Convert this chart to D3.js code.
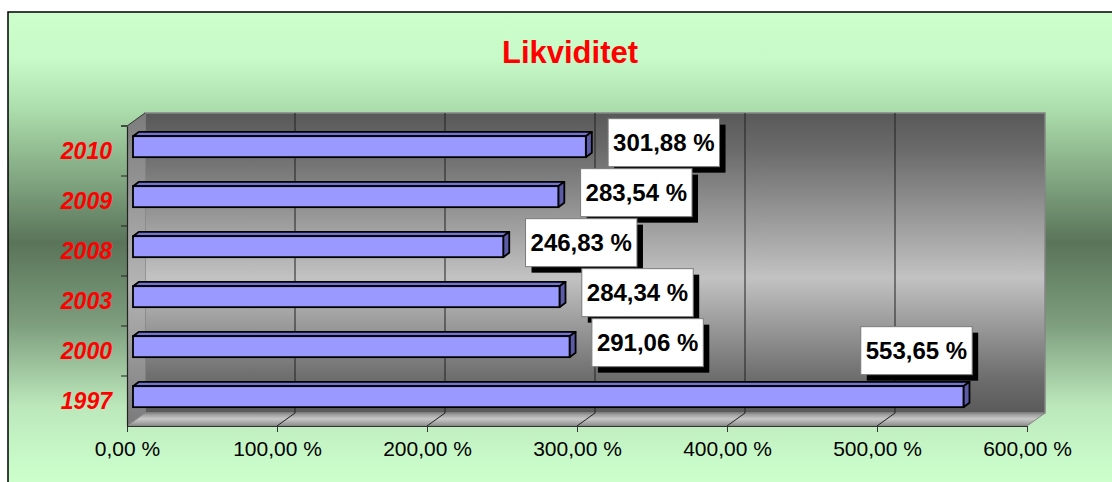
<!DOCTYPE html>
<html>
<head>
<meta charset="utf-8">
<script src="https://cdn.jsdelivr.net/npm/d3@7"></script>
<style>
  body { margin: 0; background: #fff; }
  svg { display: block; font-family: Arial, "Liberation Sans", sans-serif; }
</style>
</head>
<body>
<div id="chart"></div>
<script>
// chart values
var years = ["1997", "2000", "2003", "2008", "2009", "2010"];
var values = [553.65, 291.06, 284.34, 246.83, 283.54, 301.88];
var xTicks = [0, 100, 200, 300, 400, 500, 600];
var title = "Likviditet";

var W = 1112, H = 482;
var depth = { dx: 18, dy: -13 };   // 3d offset of back wall
var plot = { left: 127, right: 1027, top: 126, bottom: 426 };

var svg = d3.select("#chart").append("svg")
    .attr("width", W)
    .attr("height", H);

var defs = svg.append("defs");

function vGrad(id, y1, y2, stops) {
    var g = defs.append("linearGradient")
        .attr("id", id)
        .attr("gradientUnits", "userSpaceOnUse")
        .attr("x1", 0).attr("x2", 0)
        .attr("y1", y1).attr("y2", y2);
    stops.forEach(function(s) {
        g.append("stop").attr("offset", s[0]).attr("stop-color", s[1]);
    });
}

vGrad("bgGrad", 12, 482, [[0, "#ccffcc"], [0.1, "#c8f9c8"], [0.21, "#abdcab"], [0.49, "#5a745a"], [0.66, "#7c9c7c"], [0.84, "#bce8bc"], [0.95, "#c8f9c8"], [1, "#ccffcc"]]);
vGrad("wallGrad", 113, 413, [[0, "#595959"], [0.12, "#6a6a6a"], [0.55, "#c2c2c2"], [0.88, "#6e6e6e"], [1, "#5a5a5a"]]);
vGrad("sideGrad", 113, 426, [[0, "#7c7c7c"], [0.55, "#b4b4b4"], [1, "#7a7a7a"]]);
vGrad("floorGrad", 413, 426, [[0, "#8e8e8e"], [0.45, "#c8c8c8"], [0.75, "#a8a8a8"], [1, "#8a8a8a"]]);

// outer background
svg.append("rect")
    .attr("x", 8).attr("y", 12)
    .attr("width", W + 10).attr("height", H + 10)
    .attr("fill", "url(#bgGrad)")
    .attr("stroke", "#000")
    .attr("stroke-width", 1.5);

svg.append("text")
    .attr("x", 570).attr("y", 63)
    .attr("text-anchor", "middle")
    .attr("font-size", 31)
    .attr("font-weight", "bold")
    .attr("fill", "#ff0000")
    .text(title);

var x = d3.scaleLinear()
    .domain([0, 600])
    .range([plot.left, plot.right]);

var y = d3.scaleBand()
    .domain(years)
    .range([plot.bottom, plot.top]);

var pts = function(arr) { return arr.map(function(p) { return p.join(","); }).join(" "); };

var x0 = plot.left, x1 = plot.right;
var bx0 = x0 + depth.dx, bx1 = x1 + depth.dx;
var by0 = plot.top + depth.dy, by1 = plot.bottom + depth.dy;

// walls
svg.append("polygon")
    .attr("points", pts([[bx0, by0], [bx1, by0], [bx1, by1], [bx0, by1]]))
    .attr("fill", "url(#wallGrad)")
    .attr("stroke", "#858585")
    .attr("stroke-width", 1.5);

svg.append("polygon")
    .attr("points", pts([[x0, plot.top], [bx0, by0], [bx0, by1], [x0, plot.bottom]]))
    .attr("fill", "url(#sideGrad)");

svg.append("polygon")
    .attr("points", pts([[x0, plot.bottom], [bx0, by1], [bx1, by1], [x1, plot.bottom]]))
    .attr("fill", "url(#floorGrad)")
    .attr("stroke", "#858585")
    .attr("stroke-width", 1);

svg.append("line")
    .attr("x1", x0).attr("y1", plot.top)
    .attr("x2", bx0).attr("y2", by0)
    .attr("stroke", "#333");

// grid lines on back wall and floor
var grid = svg.append("g");
grid.selectAll(".wall-grid")
    .data(xTicks.slice(1, -1))
    .enter().append("line")
    .attr("x1", function(d) { return x(d) + depth.dx; })
    .attr("x2", function(d) { return x(d) + depth.dx; })
    .attr("y1", by0).attr("y2", by1)
    .attr("stroke", "#222")
    .attr("stroke-width", 1);
grid.selectAll(".floor-grid")
    .data(xTicks.slice(1, -1))
    .enter().append("line")
    .attr("x1", function(d) { return x(d); })
    .attr("y1", plot.bottom)
    .attr("x2", function(d) { return x(d) + depth.dx; })
    .attr("y2", by1)
    .attr("stroke", "#222")
    .attr("stroke-width", 1);

// bars (3d boxes)
var f1 = 1 / 3, f2 = 2 / 3;
var barH = 21;
var rows = years.map(function(yr, i) { return { year: yr, value: values[i] }; });

var bars = svg.append("g").selectAll("g")
    .data(rows)
    .enter().append("g");

function barGeom(d) {
    var cy = y(d.year) + y.bandwidth() / 2 + depth.dy * f1;
    return {
        xl: x(0) + depth.dx * f1,
        xr: x(d.value) + depth.dx * f1,
        yt: cy - barH / 2,
        yb: cy + barH / 2,
        ox: depth.dx * (f2 - f1),
        oy: depth.dy * (f2 - f1),
        cy: cy
    };
}

bars.append("polygon")
    .attr("points", function(d) {
        var g = barGeom(d);
        return pts([[g.xl, g.yt], [g.xl + g.ox, g.yt + g.oy], [g.xr + g.ox, g.yt + g.oy], [g.xr, g.yt]]);
    })
    .attr("fill", "#7373d0")
    .attr("stroke", "#000").attr("stroke-width", 1.8).attr("stroke-linejoin", "round");

bars.append("polygon")
    .attr("points", function(d) {
        var g = barGeom(d);
        return pts([[g.xr, g.yt], [g.xr + g.ox, g.yt + g.oy], [g.xr + g.ox, g.yb + g.oy], [g.xr, g.yb]]);
    })
    .attr("fill", "#5a5aa6")
    .attr("stroke", "#000").attr("stroke-width", 1.8).attr("stroke-linejoin", "round");

bars.append("rect")
    .attr("x", function(d) { return barGeom(d).xl; })
    .attr("y", function(d) { return barGeom(d).yt; })
    .attr("width", function(d) { var g = barGeom(d); return g.xr - g.xl; })
    .attr("height", barH)
    .attr("fill", "#9999ff")
    .attr("stroke", "#000").attr("stroke-width", 1.8);

// x axis
var fmt = function(d) { return d3.format(".2f")(d).replace(".", ",") + " %"; };

var xAxis = svg.append("g")
    .attr("transform", "translate(0," + plot.bottom + ")")
    .call(d3.axisBottom(x).tickValues(xTicks).tickFormat(fmt).tickSize(6).tickPadding(9).tickSizeOuter(0));
xAxis.select(".domain").attr("stroke", "#333").attr("stroke-width", 1.2);
xAxis.selectAll(".tick line").attr("stroke", "#333");
xAxis.selectAll(".tick text")
    .attr("font-size", 21)
    .attr("font-family", "Arial, 'Liberation Sans', sans-serif")
    .attr("fill", "#000");

// y axis
var yAxis = svg.append("g")
    .attr("transform", "translate(" + plot.left + ",0)")
    .call(d3.axisLeft(y).tickSize(0).tickPadding(15));
yAxis.select(".domain").attr("stroke", "#222").attr("stroke-width", 1.2);
yAxis.selectAll(".tick text")
    .attr("dy", "0.36em")
    .attr("font-size", 23)
    .attr("font-weight", "bold")
    .attr("font-style", "italic")
    .attr("font-family", "Arial, 'Liberation Sans', sans-serif")
    .attr("fill", "#ff0000");

yAxis.selectAll(".bound")
    .data(years.map(function(d) { return y(d); }).concat([plot.top]))
    .enter().append("line")
    .attr("x1", -6).attr("x2", 0)
    .attr("y1", function(d) { return d; })
    .attr("y2", function(d) { return d; })
    .attr("stroke", "#222");

// data labels, top row drawn first
var labels = svg.append("g").selectAll("g")
    .data(rows.slice().reverse())
    .enter().append("g");

labels.each(function(d) {
    var g = barGeom(d);
    var cx = g.xr + 78, cy = g.cy - 4;
    if (cx + 55 > bx1) { cx = g.xr - 47; cy = g.cy - 46; }
    var el = d3.select(this);
    var shadow = el.append("rect").attr("fill", "#000");
    var box = el.append("rect").attr("fill", "#fff").attr("stroke", "#7a7a7a").attr("stroke-width", 1);
    var t = el.append("text")
        .attr("x", cx).attr("y", cy)
        .attr("dy", "0.36em")
        .attr("text-anchor", "middle")
        .attr("font-size", 24)
        .attr("font-weight", "bold")
        .attr("fill", "#000")
        .text(fmt(d.value));
    var w = t.node().getComputedTextLength() + 10, h = 48;
    box.attr("x", cx - w / 2).attr("y", cy - h / 2).attr("width", w).attr("height", h);
    shadow.attr("x", cx - w / 2 + 6).attr("y", cy - h / 2 + 6).attr("width", w).attr("height", h);
});
</script>
</body>
</html>
